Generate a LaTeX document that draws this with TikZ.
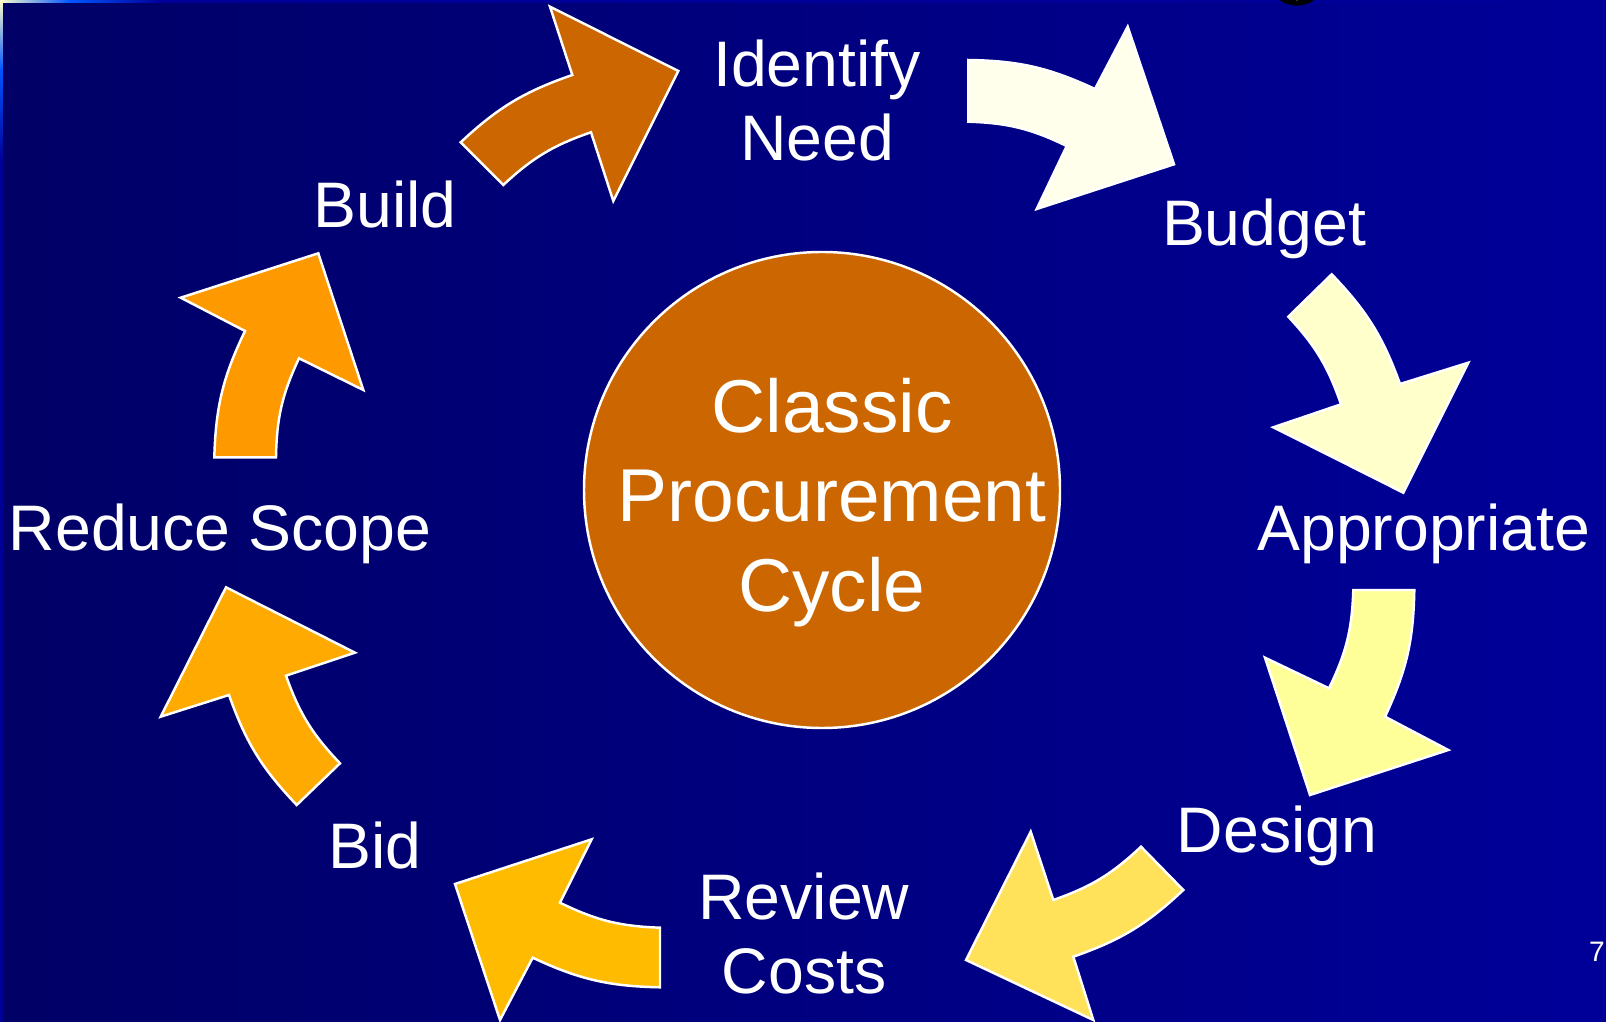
\documentclass[tikz,border=0pt]{standalone}
\usepackage{fontspec}
\setmainfont{Liberation Sans}
\usetikzlibrary{calc}

\definecolor{bg_left}{RGB}{0,0,102}
\definecolor{bg_right}{RGB}{0,0,153}
\definecolor{edge_cream}{RGB}{255,255,204}
\definecolor{edge_blue}{RGB}{0,85,255}
\definecolor{hub_fill}{HTML}{CC6600}
\definecolor{col_need}{HTML}{CC6600}
\definecolor{col_budget}{HTML}{FFFFEB}
\definecolor{col_appropriate}{HTML}{FFFFCC}
\definecolor{col_design}{HTML}{FFFF99}
\definecolor{col_review}{HTML}{FFE15A}
\definecolor{col_bid}{HTML}{FFBB00}
\definecolor{col_reduce}{HTML}{FFAA00}
\definecolor{col_build}{HTML}{FF9900}

\begin{document}
\begin{tikzpicture}[x = 0.01cm, y = -0.01cm,
        cycle_arrow/.style = {draw = white, line width = 0.7pt, line join = miter},
        step_label/.style = {text = white, align = center, anchor = base,
            font = \fontsize{18.3}{21}\selectfont},
        hub_label/.style = {text = white, align = center, anchor = base,
            font = \fontsize{21.3}{25.5}\selectfont}]
            \useasboundingbox (0, 0) rectangle (1606, 1022);
            \shade[left color = bg_left, right color = bg_right] (0, 0) rectangle (1606, 1022);
            \shade[left color = edge_cream, right color = edge_blue] (0, 0) rectangle (70, 3);
            \shade[left color = edge_blue, right color = bg_right] (70, 0) rectangle (160, 3);
            \fill[bg_right] (160, 0) rectangle (1606, 3);
            \shade[top color = edge_cream, bottom color = edge_blue] (0, 0) rectangle (3, 70);
            \shade[top color = edge_blue, bottom color = bg_right] (0, 70) rectangle (3, 160);
            \fill[bg_right] (0, 160) rectangle (3, 1022);
            \draw[black, line width = 1.5pt, fill = gray!50] (1297, -24) circle [radius = 27];

            \coordinate (hub) at (822, 490);
            \draw[white, line width = 0.7pt, fill = hub_fill] (hub) circle [radius = 238];
            \node[hub_label] (hub_text) at (832, 611.5) {Classic\\Procurement\\Cycle};

            \draw[cycle_arrow, fill = col_need] (460.7, 142.3) to[bend left = 12] (572.3, 75) -- (550, 6.7) -- (678.3, 71) -- (613.3, 201) -- (591, 132.3) to[bend right = 12] (503.3, 185) -- cycle;
            \draw[cycle_arrow, fill = col_budget] (968.3, 60) to[bend left = 12] (1095, 89) -- (1127.7, 26.7) -- (1174, 164.3) -- (1036.7, 209) -- (1066.7, 146) to[bend right = 12] (968.3, 121.7) -- cycle;
            \draw[cycle_arrow, fill = col_appropriate] (1331.7, 274.3) to[bend left = 12] (1400, 384) -- (1468.3, 362.7) -- (1403.3, 492.7) -- (1273.3, 427.3) -- (1341, 404.3) to[bend right = 12] (1288.3, 316.7) -- cycle;
            \draw[cycle_arrow, fill = col_design] (1414.3, 590) to[bend left = 12] (1385, 716.7) -- (1448.3, 750) -- (1310, 795) -- (1265, 657.7) -- (1329, 688.3) to[bend right = 12] (1353.3, 590) -- cycle;
            \draw[cycle_arrow, fill = col_review] (1183.3, 890) to[bend left = 12] (1073.3, 956.7) -- (1093.3, 1020) -- (966, 960) -- (1030.7, 831.7) -- (1053.3, 900) to[bend right = 12] (1141, 846.7) -- cycle;
            \draw[cycle_arrow, fill = col_bid] (660, 987.3) to[bend left = 12] (532.7, 957.7) -- (500, 1020) -- (455, 884) -- (591.7, 839.3) -- (560, 902.7) to[bend right = 12] (660, 927.7) -- cycle;
            \draw[cycle_arrow, fill = col_reduce] (296.7, 805) to[bend left = 12] (229, 695) -- (160.7, 716.7) -- (226, 587.3) -- (355, 652.7) -- (286, 675.7) to[bend right = 12] (340, 763.3) -- cycle;
            \draw[cycle_arrow, fill = col_build] (214.3, 457.3) to[bend left = 12] (245, 331) -- (180.7, 297.7) -- (318.3, 253.3) -- (363.3, 390) -- (299, 358.3) to[bend right = 12] (276, 457.3) -- cycle;

            \node[step_label] (identify_need) at (817, 160.8) {Identify\\Need};
            \node[step_label] (budget) at (1264, 245.8) {Budget};
            \node[step_label] (appropriate) at (1423.7, 551) {Appropriate};
            \node[step_label] (design) at (1277, 852) {Design};
            \node[step_label] (review_costs) at (804, 993.5) {Review\\Costs};
            \node[step_label] (bid) at (375, 868.5) {Bid};
            \node[step_label] (reduce_scope) at (220, 551) {Reduce Scope};
            \node[step_label] (build) at (385, 227.4) {Build};
            \node[text = white, font = \fontsize{8}{9}\selectfont] (page_number) at (1597, 952) {7};
        \end{tikzpicture}
\end{document}
